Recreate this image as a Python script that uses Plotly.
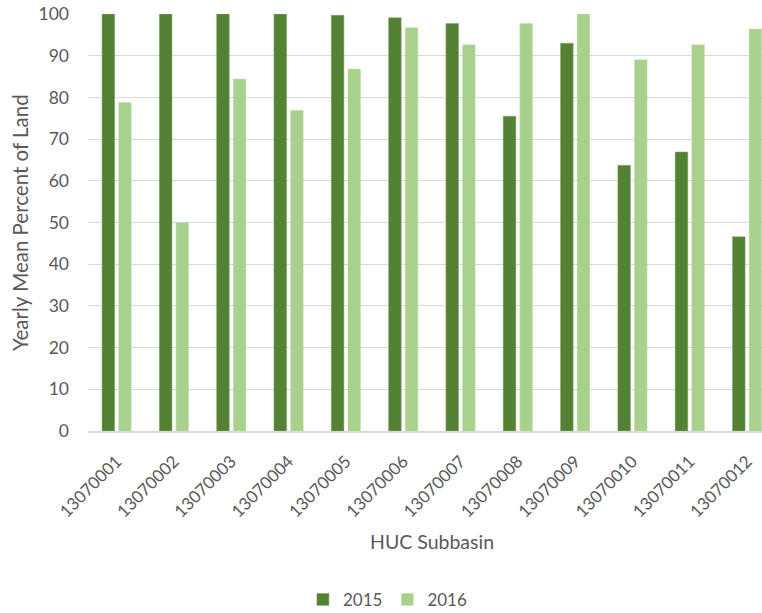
import plotly.graph_objects as go

categories = ["13070001", "13070002", "13070003", "13070004", "13070005", "13070006",
              "13070007", "13070008", "13070009", "13070010", "13070011", "13070012"]
values_2015 = [100, 100, 100, 100, 99.7, 99.1, 97.7, 75.5, 93.0, 63.7, 66.9, 46.6]
values_2016 = [78.8, 50.0, 84.4, 76.9, 86.8, 96.7, 92.6, 97.7, 100, 89.0, 92.6, 96.4]
y_ticks = [0, 10, 20, 30, 40, 50, 60, 70, 80, 90, 100]

txt = "#595959"
fnt = "Lato"

fig = go.Figure()
fig.add_trace(go.Bar(x=categories, y=values_2015, name="2015",
                     marker=dict(color="#548235", line=dict(color="#7fa866", width=0.5))))
fig.add_trace(go.Bar(x=categories, y=values_2016, name="2016",
                     marker=dict(color="#a9d18e", line=dict(color="#c3e0ae", width=0.5))))

fig.update_layout(
    width=762, height=613,
    margin=dict(l=88, r=0, t=14, b=182, pad=0, autoexpand=False),
    paper_bgcolor="white", plot_bgcolor="white",
    barmode="group", bargap=0.42, bargroupgap=0.24,
    font=dict(family=fnt, color=txt, size=17),
    showlegend=True,
    legend=dict(orientation="h", x=0.445, xanchor="center", y=-0.405, yanchor="middle",
                font=dict(size=17, color=txt), itemwidth=30, traceorder="normal"),
    xaxis=dict(type="category", range=[-0.5, 11.26], tickangle=-45, automargin=False,
               showgrid=False, showline=True, linecolor="#d9d9d9", linewidth=1.5,
               ticks="outside", ticklen=12, tickcolor="rgba(0,0,0,0)",
               tickfont=dict(size=17, color=txt)),
    yaxis=dict(range=[0, 100], tickvals=y_ticks, showgrid=True, gridcolor="#d9d9d9",
               gridwidth=1, zeroline=False, showline=False, ticks="", automargin=False,
               ticklabelstandoff=18, tickfont=dict(size=17.5, color=txt)),
    annotations=[
        dict(text="HUC Subbasin", xref="paper", yref="paper", x=0.51, y=-0.264,
             showarrow=False, font=dict(size=19.5, color=txt), xanchor="center", yanchor="middle"),
        dict(text="Yearly Mean Percent of Land", xref="paper", yref="paper", x=-0.101, y=0.501,
             showarrow=False, textangle=-90, font=dict(size=20.5, color=txt),
             xanchor="center", yanchor="middle"),
    ],
)

fig.write_html("out.html", config={"displayModeBar": False},
               post_script="document.body.style.margin='0px';")
